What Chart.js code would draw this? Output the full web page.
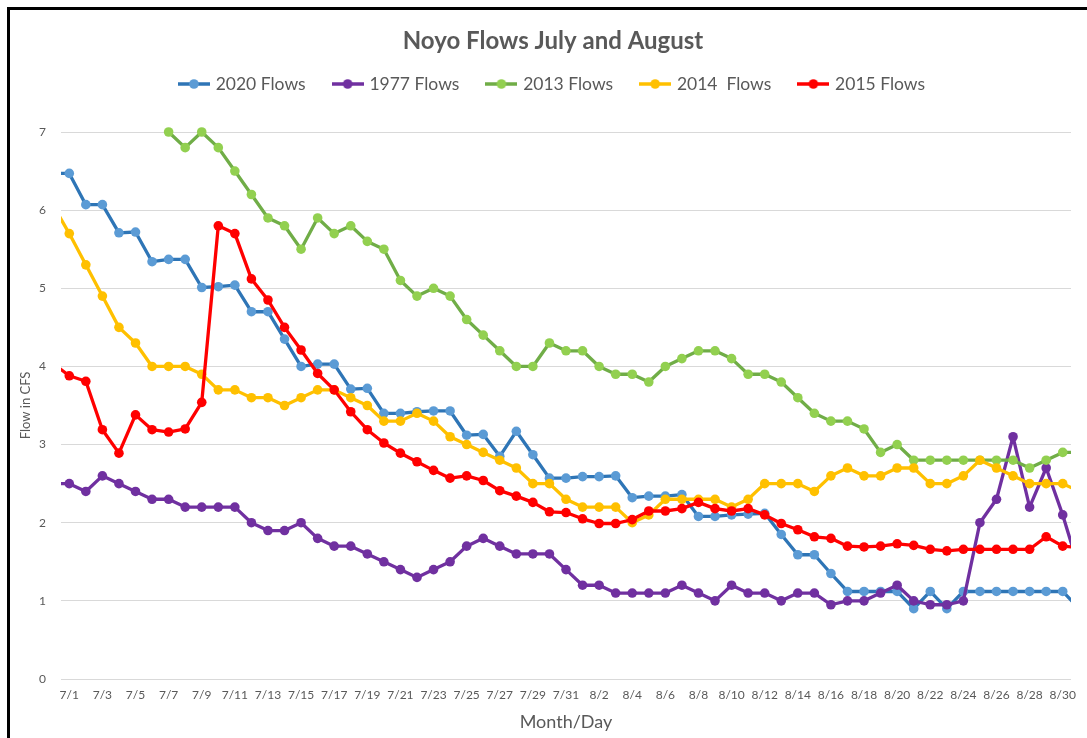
<!DOCTYPE html>
<html><head><meta charset="utf-8">
<script src="https://cdn.jsdelivr.net/npm/chart.js@4.4.1/dist/chart.umd.min.js"></script>
<style>
html,body{margin:0;padding:0;background:#fff;overflow:hidden;width:1087px;height:738px;}
#wrap{position:relative;width:1087px;height:738px;}
#frame{position:absolute;left:7px;top:7px;width:1200px;height:800px;border:3px solid #000;box-sizing:border-box;pointer-events:none;}
canvas{position:absolute;left:0;top:0;}
</style></head><body>
<div id="wrap"><canvas id="c" width="1087" height="738"></canvas><div id="frame"></div></div>
<script>
// Days shown (6/30 and 8/31 lie just outside the visible plot and are clipped)
const days = ['6/30',
 '7/1','7/2','7/3','7/4','7/5','7/6','7/7','7/8','7/9','7/10','7/11','7/12','7/13','7/14','7/15','7/16',
 '7/17','7/18','7/19','7/20','7/21','7/22','7/23','7/24','7/25','7/26','7/27','7/28','7/29','7/30','7/31',
 '8/1','8/2','8/3','8/4','8/5','8/6','8/7','8/8','8/9','8/10','8/11','8/12','8/13','8/14','8/15','8/16',
 '8/17','8/18','8/19','8/20','8/21','8/22','8/23','8/24','8/25','8/26','8/27','8/28','8/29','8/30','8/31'];

const tickLabels = ['7/1','7/3','7/5','7/7','7/9','7/11','7/13','7/15','7/17','7/19','7/21','7/23','7/25','7/27','7/29','7/31',
 '8/2','8/4','8/6','8/8','8/10','8/12','8/14','8/16','8/18','8/20','8/22','8/24','8/26','8/28','8/30'];

const yTicks = [0,1,2,3,4,5,6,7];

const flow2020 = [6.47,
 6.47,6.07,6.07,5.71,5.72,5.34,5.37,5.37,5.01,5.02,5.04,4.70,4.70,4.35,4.00,4.03,
 4.03,3.71,3.72,3.40,3.40,3.42,3.43,3.43,3.12,3.13,2.85,3.17,2.87,2.57,2.57,
 2.59,2.59,2.60,2.32,2.34,2.34,2.36,2.08,2.08,2.10,2.11,2.12,1.85,1.59,1.59,1.35,
 1.12,1.12,1.12,1.12,0.90,1.12,0.90,1.12,1.12,1.12,1.12,1.12,1.12,1.12,0.90];

const flow1977 = [2.50,
 2.50,2.40,2.60,2.50,2.40,2.30,2.30,2.20,2.20,2.20,2.20,2.00,1.90,1.90,2.00,1.80,
 1.70,1.70,1.60,1.50,1.40,1.30,1.40,1.50,1.70,1.80,1.70,1.60,1.60,1.60,1.40,
 1.20,1.20,1.10,1.10,1.10,1.10,1.20,1.10,1.00,1.20,1.10,1.10,1.00,1.10,1.10,0.95,
 1.00,1.00,1.10,1.20,1.00,0.95,0.95,1.00,2.00,2.30,3.10,2.20,2.70,2.10,1.40];

const flow2013 = [null,
 null,null,null,null,null,null,7.0,6.8,7.0,6.8,6.5,6.2,5.9,5.8,5.5,5.9,
 5.7,5.8,5.6,5.5,5.1,4.9,5.0,4.9,4.6,4.4,4.2,4.0,4.0,4.3,4.2,
 4.2,4.0,3.9,3.9,3.8,4.0,4.1,4.2,4.2,4.1,3.9,3.9,3.8,3.6,3.4,3.3,
 3.3,3.2,2.9,3.0,2.8,2.8,2.8,2.8,2.8,2.8,2.8,2.7,2.8,2.9,2.9];

const flow2014 = [6.07,
 5.7,5.3,4.9,4.5,4.3,4.0,4.0,4.0,3.9,3.7,3.7,3.6,3.6,3.5,3.6,3.7,
 3.7,3.6,3.5,3.3,3.3,3.4,3.3,3.1,3.0,2.9,2.8,2.7,2.5,2.5,2.3,
 2.2,2.2,2.2,2.0,2.1,2.3,2.3,2.3,2.3,2.2,2.3,2.5,2.5,2.5,2.4,2.6,
 2.7,2.6,2.6,2.7,2.7,2.5,2.5,2.6,2.8,2.7,2.6,2.5,2.5,2.5,2.4];

const flow2015 = [4.04,
 3.88,3.81,3.19,2.89,3.38,3.19,3.16,3.20,3.54,5.80,5.70,5.12,4.85,4.50,4.21,3.91,
 3.70,3.42,3.19,3.02,2.89,2.78,2.67,2.57,2.60,2.54,2.41,2.34,2.26,2.14,2.13,
 2.05,1.99,1.99,2.04,2.15,2.15,2.18,2.26,2.18,2.15,2.18,2.10,1.99,1.91,1.82,1.80,
 1.70,1.69,1.70,1.73,1.71,1.66,1.64,1.66,1.66,1.66,1.66,1.66,1.82,1.70,1.68];

const seriesNames = ['2020 Flows','1977 Flows','2013 Flows','2014  Flows','2015 Flows'];
const seriesValues = [flow2020, flow1977, flow2013, flow2014, flow2015];
const lineColors = ['#2E75B6','#7030A0','#70AD47','#FFC000','#FF0000'];
const markerColors = ['#5B9BD5','#7030A0','#92D050','#FFC000','#FF0000'];

const FONT = 'Lato, "Liberation Sans", sans-serif';
const TXT = '#595959';

function legendIcon(line, marker){
  const c = document.createElement('canvas'); c.width = 32; c.height = 12;
  const g = c.getContext('2d');
  g.strokeStyle = line; g.lineWidth = 3.5; g.beginPath(); g.moveTo(0,6); g.lineTo(32,6); g.stroke();
  g.fillStyle = marker; g.beginPath(); g.arc(16,6,4.8,0,Math.PI*2); g.fill();
  return c;
}
const icons = seriesNames.map((n,i)=>legendIcon(lineColors[i], markerColors[i]));

// later series drawn on top: Chart.js draws first dataset last, so reverse
const order = [4,3,2,1,0];
const datasets = order.map(i => ({
  label: seriesNames[i],
  data: seriesValues[i].map((v,k)=>({x:k-1, y:v})),
  borderColor: lineColors[i],
  backgroundColor: markerColors[i],
  pointBackgroundColor: markerColors[i],
  pointBorderWidth: 0,
  pointRadius: 4.8,
  borderWidth: 3.3,
  borderJoinStyle: 'round',
  borderCapStyle: 'round',
  tension: 0,
  spanGaps: false,
  clip: {left:0, right:0, top:10, bottom:10}
}));

new Chart(document.getElementById('c'), {
  type: 'line',
  data: { datasets },
  options: {
    responsive:false, animation:false, devicePixelRatio:1, events:[],
    layout:{padding:{left:35,right:16,top:0,bottom:0}},
    plugins:{
      tooltip:{enabled:false},
      title:{display:true,text:'Noyo Flows July and August',color:TXT,
        font:{family:FONT,size:24,weight:'bold',lineHeight:1},padding:{top:29,bottom:-6.75}},
      subtitle:{display:true,text:'',weight:500,font:{size:1,lineHeight:1},padding:{top:28.25,bottom:0}},
      legend:{display:true,position:'top',
        labels:{usePointStyle:true,pointStyleWidth:26,padding:29,color:TXT,
          font:{family:FONT,size:17.5},
          generateLabels:()=>seriesNames.map((n,i)=>({text:n,fillStyle:markerColors[i],strokeStyle:lineColors[i],
            lineWidth:0,pointStyle:icons[i],hidden:false,datasetIndex:order.indexOf(i),fontColor:TXT}))}}
    },
    scales:{
      x:{type:'linear',min:-0.5,max:60.5,
        afterBuildTicks:(ax)=>{ax.ticks = tickLabels.map(l=>({value:days.indexOf(l)-1}));},
        ticks:{autoSkip:false,maxRotation:0,minRotation:0,padding:9,color:TXT,font:{family:FONT,size:12},
          callback:(v)=>days[Math.round(v)+1]},
        grid:{display:false,drawTicks:false},border:{display:false},
        title:{display:true,text:'Month/Day',color:TXT,font:{family:FONT,size:18},padding:{top:0,bottom:5.2}},
        afterFit:(ax)=>{ax.height=59;}
      },
      y:{min:0,max:7,
        afterBuildTicks:(ax)=>{ax.ticks = yTicks.map(v=>({value:v}));},
        ticks:{padding:15,color:TXT,font:{family:FONT,size:12}},
        grid:{color:'#D9D9D9',lineWidth:1,drawTicks:false},border:{display:false},
        title:{display:true,text:'Flow in CFS',color:TXT,font:{family:FONT,size:13},padding:{top:-16.8,bottom:0}},
        afterFit:(ax)=>{ax.width=26;}
      }
    }
  }
});
</script>
</body></html>
